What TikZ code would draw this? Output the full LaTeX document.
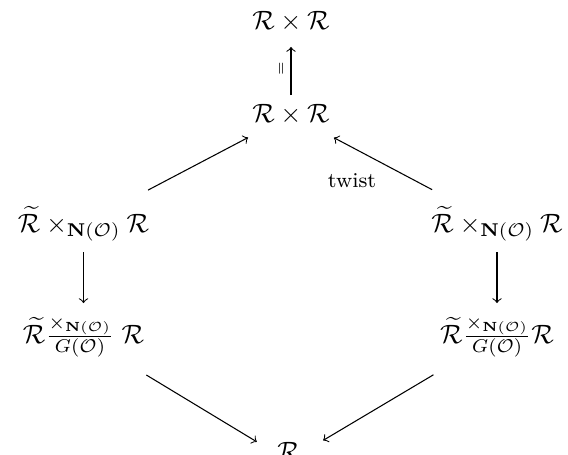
\documentclass[tikz,border=0pt]{standalone}
\usepackage{amsmath, amssymb}

\begin{document}
\begin{tikzpicture}[x=0.3774pt, y=-0.3774pt, arr/.style={->}]

\useasboundingbox (0,0) rectangle (568,455);

% Top and middle products
\node (top) at (291,21.5) {$\mathcal{R}\times\mathcal{R}$};
\node (mid) at (291,115) {$\mathcal{R}\times\mathcal{R}$};

% Fibre products
\node (lup) at (83.5,224) {$\widetilde{\mathcal{R}}\times_{\mathbf{N}(\mathcal{O})}\mathcal{R}$};
\node (rup) at (497,224) {$\widetilde{\mathcal{R}}\times_{\mathbf{N}(\mathcal{O})}\mathcal{R}$};

% Quotients
\node (ldown) at (83.5,337) {$\widetilde{\mathcal{R}}\frac{\times_{\mathbf{N}(\mathcal{O})}}{G(\mathcal{O})}\;\mathcal{R}$};
\node (rdown) at (497,337) {$\widetilde{\mathcal{R}}\frac{\times_{\mathbf{N}(\mathcal{O})}}{G(\mathcal{O})}\mathcal{R}$};

% Bottom
\node[anchor=base] (bot) at (288.5,461) {$\mathcal{R}$};

% Arrows
\draw[arr, shorten <=7.5pt, shorten >=9.6pt] (mid.center) -- (top.center)
  node[pos=0.5, left=-1pt, rotate=90, anchor=south] (eq) {$\scriptscriptstyle=$};
\draw[arr, shorten <=27.5pt, shorten >=18.3pt] (lup.center) -- (mid.center);
\draw[arr, shorten <=27.7pt, shorten >=18.3pt] (rup.center) -- (mid.center);
\node[font=\footnotesize] (tw) at (352,181) {twist};

\draw[arr, shorten <=10.6pt, shorten >=12.8pt] (lup.center) -- (ldown.center);
\draw[arr, shorten <=10.6pt, shorten >=12.8pt] (rup.center) -- (rdown.center);

\draw[arr, shorten <=27.7pt, shorten >=14pt] (ldown.center) -- (bot.base);
\draw[arr, shorten <=27.9pt, shorten >=15.2pt] (rdown.center) -- (bot.base);

\end{tikzpicture}
\end{document}
